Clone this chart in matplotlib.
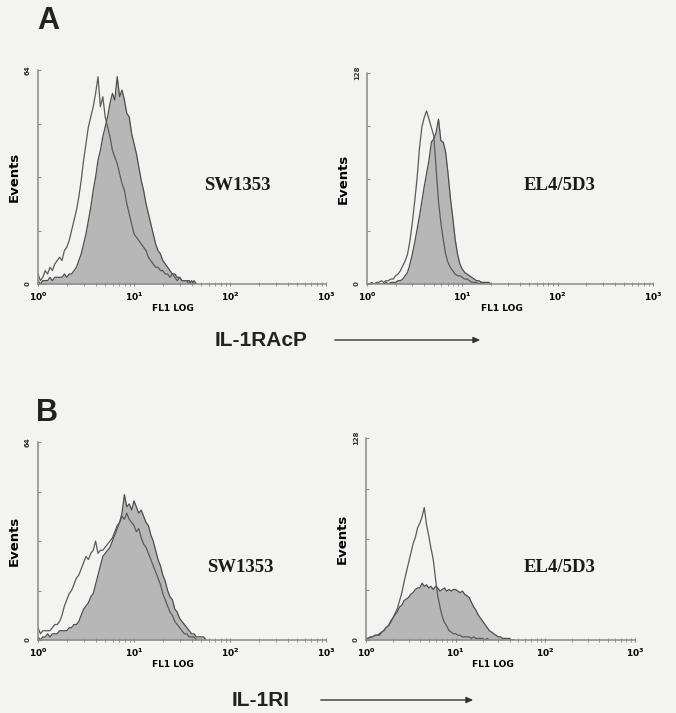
import numpy as np
import matplotlib
matplotlib.use("Agg")
import matplotlib.pyplot as plt
from matplotlib.patches import FancyArrowPatch

# --- histogram counts, 40 channels per decade starting at 10^0 ---
CH_PER_DECADE = 40

# A: IL-1RAcP, SW1353 (scale 0-64)
a_sw_ctrl = [3, 1, 2, 4, 3, 5, 4, 6, 7, 8, 7, 10, 11, 13, 16, 19, 22, 26, 31, 37,
             42, 47, 50, 53, 57, 62, 53, 56, 50, 47, 44, 40, 38, 36, 33, 30, 28, 24, 21, 18,
             15, 14, 13, 12, 11, 10, 8, 7, 6, 5, 5, 4, 4, 3, 3, 2, 3, 2, 1, 2,
             1, 1, 1, 0, 1, 0, 0]
a_sw_stain = [1, 0, 1, 1, 1, 2, 1, 2, 2, 2, 2, 3, 2, 3, 3, 4, 5, 7, 9, 12,
              15, 19, 23, 28, 32, 37, 40, 44, 47, 50, 54, 57, 55, 62, 56, 58, 55, 51, 50, 45,
              42, 39, 35, 31, 28, 24, 21, 18, 15, 12, 10, 9, 7, 6, 5, 4, 3, 3, 2, 2,
              1, 1, 1, 1, 0, 1, 0]

# A: IL-1RAcP, EL4/5D3 (scale 0-128)
a_el_ctrl = [0, 0, 1, 0, 1, 1, 2, 1, 2, 2, 3, 3, 5, 6, 8, 11, 14, 18, 26, 37,
             50, 64, 82, 95, 101, 105, 100, 95, 90, 70, 50, 37, 27, 18, 13, 10, 8, 6, 5, 5,
             4, 3, 3, 2, 1, 1, 1, 0, 1, 0]
a_el_stain = [0, 0, 0, 0, 0, 0, 0, 0, 1, 0, 1, 1, 1, 2, 2, 3, 5, 7, 12, 18,
              25, 33, 41, 50, 59, 67, 75, 86, 88, 92, 100, 87, 86, 80, 67, 52, 40, 27, 18, 12,
              9, 7, 6, 5, 4, 3, 2, 2, 1, 1, 1, 1, 0]

# B: IL-1RI, SW1353 (scale 0-64)
b_sw_ctrl = [4, 2, 3, 3, 3, 3, 4, 5, 5, 6, 8, 11, 13, 15, 16, 18, 20, 21, 23, 25,
             27, 26, 28, 29, 32, 28, 29, 29, 30, 31, 32, 33, 35, 37, 38, 40, 39, 41, 39, 38,
             37, 35, 36, 33, 31, 30, 28, 26, 24, 22, 20, 18, 15, 13, 11, 9, 8, 6, 5, 4,
             3, 2, 2, 1, 1, 1, 0]
b_sw_stain = [1, 0, 1, 1, 2, 1, 2, 2, 2, 3, 3, 3, 3, 4, 4, 5, 5, 6, 8, 10,
              11, 12, 14, 15, 18, 21, 24, 27, 28, 29, 30, 32, 34, 36, 38, 41, 47, 43, 44, 42,
              45, 43, 41, 42, 40, 38, 37, 34, 32, 29, 26, 24, 21, 19, 16, 14, 13, 10, 9, 7,
              6, 5, 4, 3, 2, 2, 1, 1, 1, 1, 0]

# B: IL-1RI, EL4/5D3 (scale 0-128)
b_el_ctrl = [1, 1, 2, 2, 3, 3, 3, 5, 6, 8, 9, 11, 14, 17, 20, 25, 30, 37, 43, 49,
             55, 61, 65, 71, 74, 78, 84, 73, 66, 58, 51, 39, 28, 21, 15, 11, 9, 6, 5, 4,
             4, 3, 3, 2, 2, 2, 2, 1, 2, 1, 1, 1, 1, 0, 1, 0]
b_el_stain = [1, 1, 2, 2, 3, 3, 4, 5, 6, 8, 9, 12, 14, 16, 18, 21, 22, 25, 26, 27,
              29, 30, 32, 33, 33, 36, 34, 35, 33, 34, 32, 34, 33, 31, 32, 33, 31, 32, 31, 32,
              32, 31, 30, 31, 29, 28, 27, 24, 21, 19, 16, 14, 12, 10, 8, 6, 5, 4, 3, 2,
              2, 1, 1, 1, 1, 0, 0]

panels = [
    # (axes rect in px: left, top, right, bottom), ymax, control, stained, cell label, label x/y
    ((38, 70, 326, 284), 64, a_sw_ctrl, a_sw_stain, "SW1353", 237, 186),
    ((367, 73, 653, 284), 128, a_el_ctrl, a_el_stain, "EL4/5D3", 560, 186),
    ((38, 442, 326, 640), 64, b_sw_ctrl, b_sw_stain, "SW1353", 240, 567),
    ((366, 438, 635, 640), 128, b_el_ctrl, b_el_stain, "EL4/5D3", 560, 567),
]

W, H = 676, 713
BG = "#f3f3f1"
FILL = "#b7b7b7"
LINE = "#4d4d4d"
AXC = "#8a8a8a"

fig = plt.figure(figsize=(W / 100, H / 100), dpi=100, facecolor=BG)


def fx(px):
    return px / W


def fy(py):
    return 1 - py / H


for (l, t, r, b), ymax, ctrl, stain, label, lx, ly in panels:
    ax = fig.add_axes([fx(l), fy(b), (r - l) / W, (b - t) / H])
    ax.set_facecolor("none")

    xs = 10 ** (np.arange(len(stain)) / CH_PER_DECADE)
    xc = 10 ** (np.arange(len(ctrl)) / CH_PER_DECADE)
    ax.fill_between(xs, stain, color=FILL, lw=0)
    ax.plot(xs, stain, color=LINE, lw=0.9)
    ax.plot(xc, ctrl, color="#5a5a5a", lw=0.9)

    ax.set_xscale("log")
    ax.set_xlim(1, 1000)
    ax.set_ylim(0, ymax)

    for s in ["top", "right"]:
        ax.spines[s].set_visible(False)
    for s in ["left", "bottom"]:
        ax.spines[s].set_color(AXC)
        ax.spines[s].set_linewidth(1.1)

    ax.set_xticks([1, 10, 100, 1000])
    ax.set_xticklabels([r"$\mathbf{10^{%d}}$" % i for i in range(4)], fontsize=6.5)
    ax.tick_params(axis="x", which="major", length=3, direction="inout", color=AXC, pad=3)
    ax.tick_params(axis="x", which="minor", length=2.5, direction="inout", color=AXC)

    yt = np.linspace(0, ymax, 5)
    ax.set_yticks(yt)
    ax.set_yticklabels(["0", "", "", "", str(ymax)], rotation=90, va="center",
                       fontsize=5, fontweight="bold", color="#333333")
    ax.tick_params(axis="y", length=2.5, direction="in", color=AXC, pad=5)

    ax.set_xlabel("FL1 LOG", fontsize=6.5, fontweight="bold", labelpad=1, x=0.47)
    ax.set_ylabel("Events", fontsize=9.5, fontweight="bold", labelpad=3)

    fig.text(fx(lx), fy(ly), label, family="Liberation Serif", fontweight="bold",
             fontsize=13.5, ha="center", va="center", color="#1a1a1a")

# panel letters
fig.text(fx(48), fy(21), "A", fontsize=22, fontweight="bold", family="Liberation Sans",
         ha="center", va="center", color="#222222")
fig.text(fx(47), fy(413), "B", fontsize=22, fontweight="bold", family="Liberation Sans",
         ha="center", va="center", color="#222222")

# axis captions with arrows
for text, y, x0, x1 in [("IL-1RAcP", 340, 332, 483), ("IL-1RI", 700, 318, 476)]:
    fig.text(fx(261), fy(y), text, fontsize=15, fontweight="bold", family="Liberation Sans",
             ha="center", va="center", color="#222222")
    arr = FancyArrowPatch((fx(x0), fy(y)), (fx(x1), fy(y)), transform=fig.transFigure,
                          arrowstyle="-|>,head_length=4,head_width=1.8", lw=1.0,
                          color="#333333", mutation_scale=1)
    fig.add_artist(arr)

fig.savefig("out.png", dpi=100, facecolor=BG)
